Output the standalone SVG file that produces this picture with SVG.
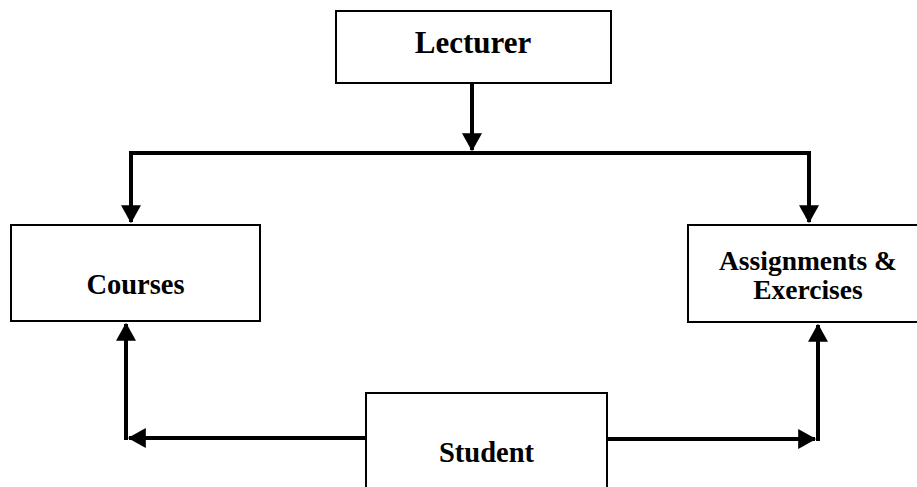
<svg xmlns="http://www.w3.org/2000/svg" width="917" height="487" viewBox="0 0 917 487">
<defs>
<marker id="ah" markerWidth="5" markerHeight="5" refX="4.2" refY="2.5" orient="auto" markerUnits="strokeWidth">
<path d="M0,0 L4.5,2.5 L0,5 Z" fill="#000"/>
</marker>
<style>
.box{fill:#fff;stroke:#000;stroke-width:2}
.lbl{font-family:"Liberation Serif","Times New Roman",serif;font-weight:bold;fill:#000;text-anchor:middle;font-size:28.5px}
.c{fill:none;stroke:#000;stroke-width:4}
</style>
</defs>
<rect width="917" height="487" fill="#fff"/>
<g id="connectors">
<path class="c" d="M472,83 V150" marker-end="url(#ah)"/>
<path class="c" d="M131,153 H809"/>
<path class="c" d="M131,151 V222" marker-end="url(#ah)"/>
<path class="c" d="M809,151 V222" marker-end="url(#ah)"/>
<path class="c" d="M366,438 H129" marker-end="url(#ah)"/>
<path class="c" d="M126,440 V324" marker-end="url(#ah)"/>
<path class="c" d="M607,439 H815" marker-end="url(#ah)"/>
<path class="c" d="M818,441 V325" marker-end="url(#ah)"/>
</g>
<g id="lecturer">
<rect class="box" x="336" y="11" width="275" height="72"/>
<text class="lbl" x="473" y="53" style="font-size:31px">Lecturer</text>
</g>
<g id="courses">
<rect class="box" x="11" y="225" width="249" height="96"/>
<text class="lbl" x="135.5" y="294">Courses</text>
</g>
<g id="assignments">
<rect class="box" x="688" y="225" width="240" height="97"/>
<text class="lbl" x="808" y="270" style="font-size:27.5px">Assignments &amp;</text>
<text class="lbl" x="808" y="299" style="font-size:27.5px">Exercises</text>
</g>
<g id="student">
<rect class="box" x="366" y="393" width="241" height="110"/>
<text class="lbl" x="486.5" y="462">Student</text>
</g>
</svg>
